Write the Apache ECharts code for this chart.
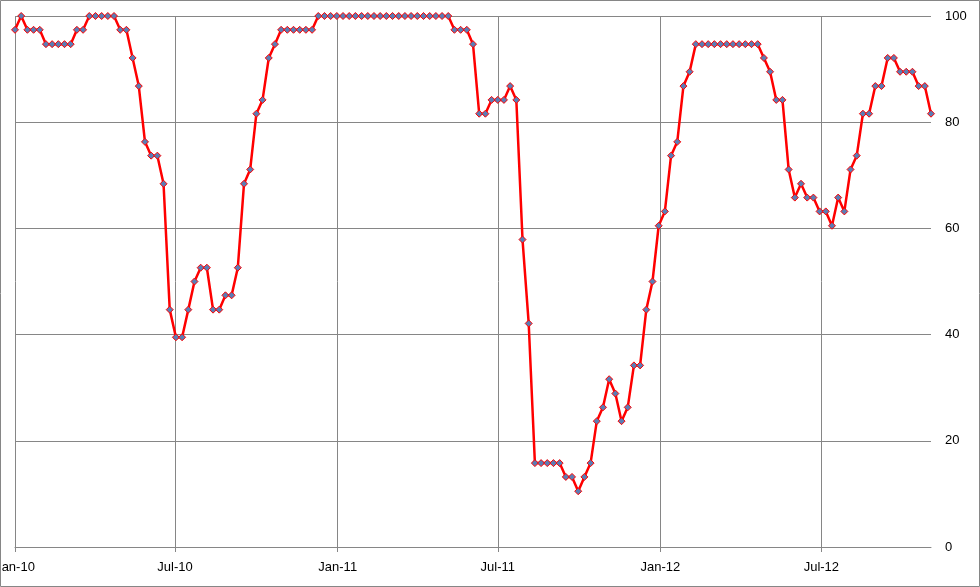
<!DOCTYPE html>
<html><head><meta charset="utf-8">
<script src="https://cdn.jsdelivr.net/npm/echarts@6/dist/echarts.min.js"></script>
<style>html,body{margin:0;padding:0;background:#fff}#c{width:980px;height:587px}</style>
</head><body><div id="c"></div>
<script>
// weekly observations starting on this date
const firstWeek = '2010-01-01';
const values = [
  97.4, 100, 97.4, 97.4, 97.4, 94.7, 94.7, 94.7, 94.7, 94.7,
  97.4, 97.4, 100, 100, 100, 100, 100, 97.4, 97.4, 92.1,
  86.8, 76.3, 73.7, 73.7, 68.4, 44.7, 39.5, 39.5, 44.7, 50.0,
  52.6, 52.6, 44.7, 44.7, 47.4, 47.4, 52.6, 68.4, 71.1, 81.6,
  84.2, 92.1, 94.7, 97.4, 97.4, 97.4, 97.4, 97.4, 97.4, 100,
  100, 100, 100, 100, 100, 100, 100, 100, 100, 100,
  100, 100, 100, 100, 100, 100, 100, 100, 100, 100,
  100, 97.4, 97.4, 97.4, 94.7, 81.6, 81.6, 84.2, 84.2, 84.2,
  86.8, 84.2, 57.9, 42.1, 15.8, 15.8, 15.8, 15.8, 15.8, 13.2,
  13.2, 10.5, 13.2, 15.8, 23.7, 26.3, 31.6, 28.9, 23.7, 26.3,
  34.2, 34.2, 44.7, 50.0, 60.5, 63.2, 73.7, 76.3, 86.8, 89.5,
  94.7, 94.7, 94.7, 94.7, 94.7, 94.7, 94.7, 94.7, 94.7, 94.7,
  94.7, 92.1, 89.5, 84.2, 84.2, 71.1, 65.8, 68.4, 65.8, 65.8,
  63.2, 63.2, 60.5, 65.8, 63.2, 71.1, 73.7, 81.6, 81.6, 86.8,
  86.8, 92.1, 92.1, 89.5, 89.5, 89.5, 86.8, 86.8, 81.6
];
const tickDates = ['2010-01-01','2010-07-01','2011-01-01','2011-07-01','2012-01-01','2012-07-01'];
const tickLabels = ['Jan-10','Jul-10','Jan-11','Jul-11','Jan-12','Jul-12'];
const yTicks = [0, 20, 40, 60, 80, 100];

const DAY = 86400000;
function utc(s) { const p = s.split('-').map(Number); return Date.UTC(p[0], p[1] - 1, p[2]); }
const start = utc(firstWeek);
// x positions = days since the first observation (weekly series)
const dayOfs = values.map((v, i) => i * 7);
const tickDays = tickDates.map(d => Math.round((utc(d) - start) / DAY));
const seriesData = values.map((v, i) => [dayOfs[i], v]);

const FONT = '"Liberation Sans", Arial, sans-serif';
const GRID_C = '#868686';

const chart = echarts.init(document.getElementById('c'), null, {renderer: 'canvas'});
chart.setOption({
  animation: false,
  backgroundColor: '#fff',
  grid: {left: 15, right: 49, top: 16, bottom: 40, containLabel: false, outerBoundsMode: 'none'},
  xAxis: {
    type: 'value',
    min: dayOfs[0],
    max: dayOfs[dayOfs.length - 1],
    axisLine: {show: true, lineStyle: {color: GRID_C, width: 1}},
    axisTick: {show: true, customValues: tickDays, length: 5, lineStyle: {color: GRID_C, width: 1}},
    axisLabel: {
      customValues: tickDays,
      showMinLabel: true,
      hideOverlap: false,
      margin: 14,
      color: '#000',
      fontSize: 13,
      fontFamily: FONT,
      formatter: function (val) {
        let best = 0, bd = Infinity;
        tickDays.forEach((t, i) => { const d = Math.abs(t - val); if (d < bd) { bd = d; best = i; } });
        return tickLabels[best];
      }
    },
    splitLine: {show: true, lineStyle: {color: GRID_C, width: 1}}
  },
  yAxis: {
    type: 'value',
    position: 'right',
    min: yTicks[0],
    max: yTicks[yTicks.length - 1],
    interval: yTicks[1] - yTicks[0],
    axisLine: {show: false},
    axisTick: {show: false},
    axisLabel: {margin: 14, color: '#000', fontSize: 13, fontFamily: FONT},
    splitLine: {show: true, lineStyle: {color: GRID_C, width: 1}}
  },
  graphic: [{
    type: 'rect', z: 100, silent: true,
    shape: {x: 0.5, y: 0.5, width: 979, height: 586},
    style: {fill: 'none', stroke: GRID_C, lineWidth: 1}
  }],
  series: [{
    type: 'line',
    data: seriesData,
    showAllSymbol: true,
    symbol: 'diamond',
    symbolSize: 7,
    lineStyle: {color: '#FF0000', width: 2.5},
    itemStyle: {color: '#5B7DB4', borderColor: '#FF0000', borderWidth: 1},
    emphasis: {disabled: true}
  }]
});
</script>
</body></html>
